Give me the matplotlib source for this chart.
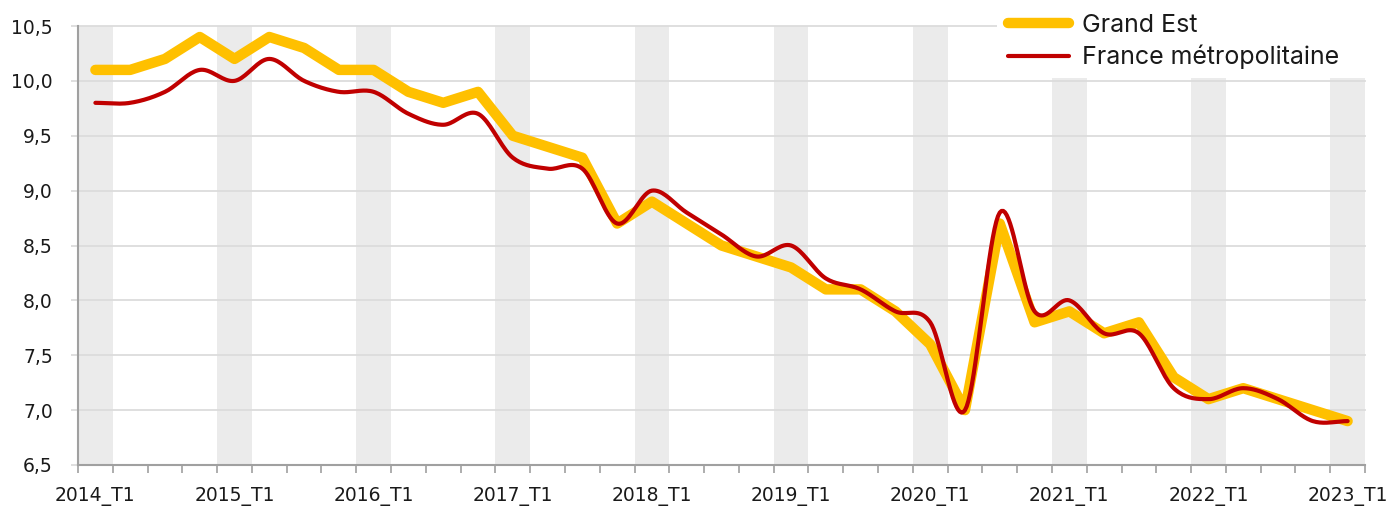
import numpy as np
import matplotlib
matplotlib.use('Agg')
import matplotlib.pyplot as plt
from matplotlib.patches import Rectangle
from matplotlib.ticker import FuncFormatter

plt.rcParams['font.family'] = ['DejaVu Sans']

# quarterly unemployment rate (%)
quarters = [f'{y}_T{q}' for y in range(2014, 2024) for q in range(1, 5)][:37]
grand_est = [10.1, 10.1, 10.2, 10.4, 10.2, 10.4, 10.3, 10.1, 10.1, 9.9, 9.8, 9.9,
             9.5, 9.4, 9.3, 8.7, 8.9, 8.7, 8.5, 8.4, 8.3, 8.1, 8.1, 7.9,
             7.6, 7.0, 8.7, 7.8, 7.9, 7.7, 7.8, 7.3, 7.1, 7.2, 7.1, 7.0, 6.9]
france = [9.8, 9.8, 9.9, 10.1, 10.0, 10.2, 10.0, 9.9, 9.9, 9.7, 9.6, 9.7,
          9.3, 9.2, 9.2, 8.7, 9.0, 8.8, 8.6, 8.4, 8.5, 8.2, 8.1, 7.9,
          7.8, 7.0, 8.8, 7.9, 8.0, 7.7, 7.7, 7.2, 7.1, 7.2, 7.1, 6.9, 6.9]

x = np.arange(len(quarters))


def catmull_rom(xs, ys, n=20):
    # smooth curve through the points (like Excel's "smoothed line")
    xs = np.asarray(xs, float)
    ys = np.asarray(ys, float)
    px = np.concatenate([[2 * xs[0] - xs[1]], xs, [2 * xs[-1] - xs[-2]]])
    py = np.concatenate([[2 * ys[0] - ys[1]], ys, [2 * ys[-1] - ys[-2]]])
    t = np.linspace(0, 1, n, endpoint=False)
    outx, outy = [], []
    for i in range(1, len(px) - 2):
        for p, out in ((px, outx), (py, outy)):
            p0, p1, p2, p3 = p[i - 1], p[i], p[i + 1], p[i + 2]
            out.extend(0.5 * (2 * p1 + (-p0 + p2) * t
                              + (2 * p0 - 5 * p1 + 4 * p2 - p3) * t ** 2
                              + (-p0 + 3 * p1 - 3 * p2 + p3) * t ** 3))
    outx.append(xs[-1])
    outy.append(ys[-1])
    return np.array(outx), np.array(outy)


fig = plt.figure(figsize=(13.93, 5.09), dpi=100)
ax = fig.add_axes([78 / 1393, 44 / 509, 1287 / 1393, 439 / 509])

# grey band on every first quarter
for i, q in enumerate(quarters):
    if q.endswith('_T1'):
        ax.axvspan(i - 0.5, i + 0.5, color='#ebebeb', lw=0, zorder=0)

for v in np.arange(7.0, 10.6, 0.5):
    ax.axhline(v, color='#dcdcdc', lw=1.3, zorder=0.5, clip_on=False)

# white area behind the legend
ax.add_patch(Rectangle((0.714, 0.8815), 0.4, 0.2, transform=ax.transAxes,
                       facecolor='white', edgecolor='none', zorder=1, clip_on=False))

ax.plot(x, grand_est, color='#ffc000', lw=7.5, solid_joinstyle='round',
        solid_capstyle='round', zorder=3, label='Grand Est')
sx, sy = catmull_rom(x, france)
ax.plot(sx, sy, color='#c00000', lw=3, solid_capstyle='round', zorder=4,
        label='France métropolitaine')

ax.set_xlim(-0.5, len(quarters) - 0.5)
ax.set_ylim(6.5, 10.5)
ax.set_xticks(x[::4])
ax.set_xticklabels(quarters[::4])
ax.set_xticks(np.arange(-0.5, len(quarters)), minor=True)
ax.set_yticks(np.arange(6.5, 10.6, 0.5))
ax.yaxis.set_major_formatter(FuncFormatter(lambda v, p: f'{v:.1f}'.replace('.', ',')))

ax.tick_params(axis='x', which='major', length=0, pad=16, labelsize=13.5, colors='#1a1a1a')
ax.tick_params(axis='x', which='minor', length=6, width=1.2, color='#a0a0a0')
ax.tick_params(axis='y', length=5, width=1.2, color='#d9d9d9', pad=13,
               labelsize=13.5, labelcolor='#1a1a1a')

for s in ('top', 'right'):
    ax.spines[s].set_visible(False)
for s in ('left', 'bottom'):
    ax.spines[s].set_color('#a0a0a0')
    ax.spines[s].set_linewidth(1.5)
    ax.spines[s].set_zorder(5)

fig.legend(loc='upper left', bbox_to_anchor=(1008 / 1393, 1 - 14 / 509),
           frameon=False, prop={'family': ['Inter', 'DejaVu Sans'], 'size': 18},
           handlelength=2.44, handletextpad=0.52,
           borderpad=0, borderaxespad=0, labelspacing=0.31, labelcolor='#1a1a1a')

fig.savefig('out.png', dpi=100)
